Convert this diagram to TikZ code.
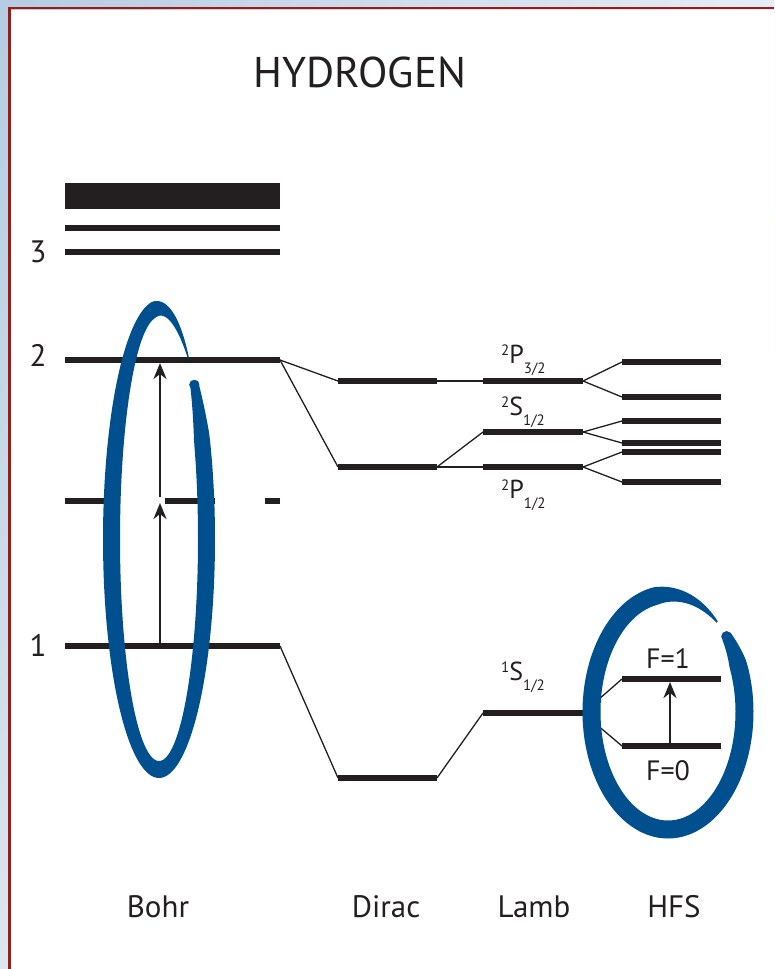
\documentclass[tikz,border=0pt]{standalone}
\usepackage{fontspec}
\setmainfont{PT Sans}
\usetikzlibrary{arrows.meta,calc,shadings}

\definecolor{ink}{HTML}{231F20}
\definecolor{brushblue}{HTML}{00508F}
\definecolor{framered}{HTML}{9E1A12}
\definecolor{skyA}{HTML}{B5CCE2}
\definecolor{skyB}{HTML}{E6EDF5}
\definecolor{skyC}{HTML}{DCE6F0}

% term symbol: upper-left multiplicity, letter, lowered j
\newcommand\term[3]{\raisebox{8pt}{\fontsize{15}{15}\selectfont #1}#2\raisebox{-10pt}{\fontsize{15}{15}\selectfont #3}}

\begin{document}
\begin{tikzpicture}[x=1pt,y=-1pt,
  lvl/.style={line width=6pt,draw=ink},
  conn/.style={line width=1.3pt,draw=ink},
  jump/.style={line width=2.6pt,draw=ink,-{Stealth[length=16pt,width=13pt,inset=5pt]}},
  brush/.style={fill=brushblue},
  lab/.style={font=\fontsize{31}{36}\selectfont,text=ink,inner sep=0pt},
  trm/.style={font=\fontsize{26}{30}\selectfont,text=ink,inner sep=0pt,anchor=base west},
  declare function={bw(\s,\S,\F)=min(min(1,0.6+\s/40),0.1+(\S-\s)/\F);}]
  \useasboundingbox (0,0) rectangle (774,969);

  % page frame
  \shade[upper left=skyA,upper right=skyB,lower left=skyC,lower right=white] (0,0) rectangle (774,969);
  \fill[white] (10.5,9.5) rectangle (774,969);
  \draw[line width=2.6pt,framered] (9.3,969) -- (9.3,8) -- (774,8);

  % Bohr
  \coordinate (b3l) at (65,252);  \coordinate (b3r) at (280,252);
  \coordinate (b2l) at (65,360);  \coordinate (b2r) at (280,360);
  \coordinate (bhl) at (65,501);  \coordinate (bhr) at (280,501);
  \coordinate (b1l) at (65,646);  \coordinate (b1r) at (280,646);
  % Dirac
  \coordinate (dpl) at (338,381); \coordinate (dpr) at (437,381);
  \coordinate (dsl) at (338,467); \coordinate (dsr) at (437,467);
  \coordinate (dgl) at (338,778); \coordinate (dgr) at (437,778);
  % Lamb
  \coordinate (lp3l) at (483,381); \coordinate (lp3r) at (583,381);
  \coordinate (lsl) at (483,432);  \coordinate (lsr) at (583,432);
  \coordinate (lp1l) at (483,467); \coordinate (lp1r) at (583,467);
  \coordinate (lgl) at (483,713);  \coordinate (lgr) at (583,713);
  % HFS
  \coordinate (h1l) at (622,362); \coordinate (h1r) at (721,362);
  \coordinate (h2l) at (622,397); \coordinate (h2r) at (721,397);
  \coordinate (h3l) at (622,421); \coordinate (h3r) at (721,421);
  \coordinate (h4l) at (622,443); \coordinate (h4r) at (721,443);
  \coordinate (h5l) at (622,452); \coordinate (h5r) at (721,452);
  \coordinate (h6l) at (622,482); \coordinate (h6r) at (721,482);
  \coordinate (f1l) at (622,679); \coordinate (f1r) at (721,679);
  \coordinate (f0l) at (622,746); \coordinate (f0r) at (721,746);

  % splittings
  \draw[conn] (b2r) -- (dpl);
  \draw[conn] (b2r) -- (dsl);
  \draw[conn] (b1r) -- (dgl);
  \draw[conn] (dpr) -- (lp3l);
  \draw[conn] (dsr) -- (lsl);
  \draw[conn] (dsr) -- (lp1l);
  \draw[conn] (dgr) -- (lgl);
  \draw[conn] (lp3r) -- (h1l);
  \draw[conn] (lp3r) -- (h2l);
  \draw[conn] (lsr) -- (h3l);
  \draw[conn] (lsr) -- (h4l);
  \draw[conn] (lp1r) -- (h5l);
  \draw[conn] (lp1r) -- (h6l);
  \draw[conn] (lgr) -- (f1l);
  \draw[conn] (lgr) -- (f0l);

  % levels
  \fill[ink] (65,183) rectangle (280,209);
  \draw[lvl] (65,228) -- (280,228);
  \draw[lvl] (b3l) -- (b3r);
  \draw[lvl] (b2l) -- (b2r);
  \draw[lvl,dash pattern=on 50pt off 50pt] (bhl) -- (bhr);
  \draw[lvl] (b1l) -- (b1r);
  \draw[lvl] (dpl) -- (dpr);
  \draw[lvl] (dsl) -- (dsr);
  \draw[lvl] (dgl) -- (dgr);
  \draw[lvl] (lp3l) -- (lp3r);
  \draw[lvl] (lsl) -- (lsr);
  \draw[lvl] (lp1l) -- (lp1r);
  \draw[lvl] (lgl) -- (lgr);
  \draw[lvl] (h1l) -- (h1r);
  \draw[lvl] (h2l) -- (h2r);
  \draw[lvl] (h3l) -- (h3r);
  \draw[lvl] (h4l) -- (h4r);
  \draw[lvl] (h5l) -- (h5r);
  \draw[lvl] (h6l) -- (h6r);
  \draw[lvl] (f1l) -- (f1r);
  \draw[lvl] (f0l) -- (f0r);

  % brush rings
  \fill[brush] plot[domain=0:350,samples=160,variable=\s]
      ({159+(47.5+8.5*bw(\s,350,50))*cos(42-\s)},{539-(230.5+8.5*bw(\s,350,50))*sin(42-\s)})
    -- plot[domain=350:0,samples=160,variable=\s]
      ({159+(47.5-8.5*bw(\s,350,50))*cos(42-\s)},{539-(230.5-8.5*bw(\s,350,50))*sin(42-\s)}) -- cycle;
  \fill[brush] ({159+47.5*cos(42)},{539-230.5*sin(42)}) circle (5.1pt);
  \fill[brush] plot[domain=0:350,samples=160,variable=\s]
      ({668+(76.5+9*bw(\s,350,55))*cos(40-\s)},{712-(117.5+9*bw(\s,350,55))*sin(40-\s)})
    -- plot[domain=350:0,samples=160,variable=\s]
      ({668+(76.5-9*bw(\s,350,55))*cos(40-\s)},{712-(117.5-9*bw(\s,350,55))*sin(40-\s)}) -- cycle;
  \fill[brush] ({668+76.5*cos(40)},{712-117.5*sin(40)}) circle (5.4pt);

  % transitions
  \coordinate (jb0) at (160,646); \coordinate (jb1) at (160,503);
  \coordinate (jb2) at (160,497); \coordinate (jb3) at (160,363);
  \coordinate (jh0) at (670,746); \coordinate (jh1) at (670,682);
  \draw[jump] (jb0) -- (jb1);
  \draw[jump] (jb2) -- (jb3);
  \draw[jump] (jh0) -- (jh1);

  % labels
  \node[lab,font=\fontsize{43}{48}\selectfont,anchor=base] (title) at (360,87) {HYDROGEN};
  \node[lab] (n3) at (38,252) {3};
  \node[lab] (n2) at (38,355) {2};
  \node[lab] (n1) at (38,645) {1};
  \node[trm] (p32) at (501,363) {\term{2}{P}{3/2}};
  \node[trm] (s12) at (501,415) {\term{2}{S}{1/2}};
  \node[trm] (p12) at (501,498) {\term{2}{P}{1/2}};
  \node[trm] (s0) at (501,680) {\term{1}{S}{1/2}};
  \node[lab,font=\fontsize{28}{32}\selectfont,anchor=base] (fa) at (668,668) {F=1};
  \node[lab,font=\fontsize{28}{32}\selectfont,anchor=base] (fb) at (668,780) {F=0};
  \node[lab,anchor=base] (bohr) at (158,917) {Bohr};
  \node[lab,anchor=base] (dirac) at (386,917) {Dirac};
  \node[lab,anchor=base] (lamb) at (534,917) {Lamb};
  \node[lab,anchor=base] (hfs) at (674,917) {HFS};
\end{tikzpicture}
\end{document}
